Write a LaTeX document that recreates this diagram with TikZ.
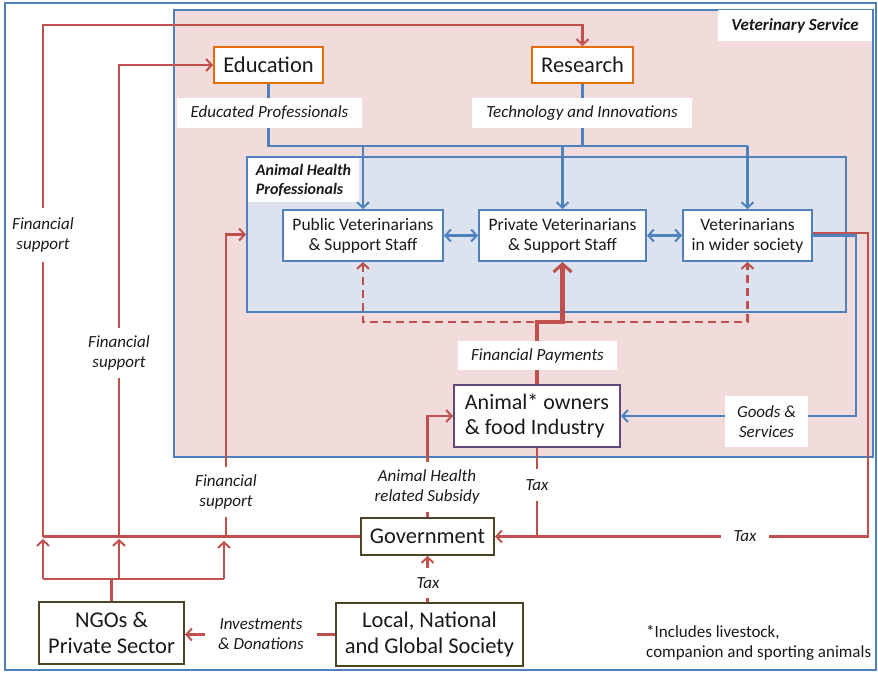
\documentclass[tikz,border=0pt]{standalone}
\usepackage{fontspec}
\setmainfont{Carlito}
\usetikzlibrary{arrows.meta}
\definecolor{vsfill}{HTML}{F2DCDB}
\definecolor{ahpfill}{HTML}{DCE3EE}
\definecolor{bline}{HTML}{4F81BD}
\definecolor{rline}{HTML}{C0504D}
\definecolor{oborder}{HTML}{E46C0A}
\definecolor{pborder}{HTML}{604A7B}
\definecolor{gborder}{HTML}{4A4529}
\definecolor{txt}{HTML}{1A1A1A}
\begin{document}
\begin{tikzpicture}[x=1pt,y=-1pt,
  rl/.style={draw=rline,line width=2.3pt},
  bl/.style={draw=bline,line width=2.5pt},
  tip/.style={-{Straight Barb[length=5.5pt,width=12pt,line width=2pt]}},
  tips2/.style={{Straight Barb[length=5.5pt,width=12pt,line width=2pt]}-{Straight Barb[length=5.5pt,width=12pt,line width=2pt]}},
  bigtip/.style={-{Straight Barb[length=8pt,width=18pt,line width=3pt]}},
  dsh/.style={dash pattern=on 8pt off 5pt},
  box/.style={draw,fill=white,line width=2pt,inner sep=0pt,align=center,text=txt},
  bigf/.style={font=\fontsize{22.5}{26}\selectfont},
  midf/.style={font=\fontsize{17.5}{20}\selectfont},
  lab/.style={fill=white,inner sep=0pt,align=center,text=txt,font=\fontsize{17}{20}\selectfont\itshape},
]
\useasboundingbox (0,0) rectangle (878,672);
% outer frame
\node[draw=bline,line width=1.3pt,minimum width=871pt,minimum height=667pt,inner sep=0pt] (frame) at (440.5,336.5) {};
% veterinary service
\node[draw=bline,fill=vsfill,line width=2pt,minimum width=699pt,minimum height=447pt,inner sep=0pt] (vs) at (523.5,233.5) {};
\node[fill=white,inner sep=0pt,minimum width=154pt,minimum height=31pt,text=txt,font=\fontsize{17}{20}\selectfont\bfseries\itshape] (vslab) at (795,25.5) {Veterinary Service};
% animal health professionals
\node[draw=bline,fill=ahpfill,line width=2pt,minimum width=599pt,minimum height=155pt,inner sep=0pt] (ahp) at (546.5,234.5) {};
\node[fill=white,inner sep=0pt,minimum width=111pt,minimum height=44pt,align=left,text=txt,font=\fontsize{16}{19}\selectfont\bfseries\itshape] (ahplab) at (303.5,180) {Animal Health\\Professionals};

% boxes
\node[box,draw=oborder,bigf,minimum width=109pt,minimum height=36pt] (edu) at (268.5,65) {Education};
\node[box,draw=oborder,bigf,minimum width=101pt,minimum height=36pt] (res) at (582.5,65) {Research};
\node[box,draw=bline,midf,minimum width=160pt,minimum height=51pt] (pub) at (363,235.5) {Public Veterinarians\\\& Support Staff};
\node[box,draw=bline,midf,minimum width=167pt,minimum height=51pt] (priv) at (562.5,235.5) {Private Veterinarians\\\& Support Staff};
\node[box,draw=bline,midf,minimum width=129pt,minimum height=51pt] (wider) at (747.5,235.5) {Veterinarians\\in wider society};
\node[box,draw=pborder,font=\fontsize{22}{25}\selectfont,align=left,minimum width=166pt,minimum height=62pt] (animal) at (537,416) {Animal* owners\\\& food Industry};
\node[box,draw=gborder,bigf,minimum width=133pt,minimum height=37pt] (gov) at (427.5,536.5) {Government};
\node[box,draw=gborder,bigf,minimum width=145pt,minimum height=62pt] (ngo) at (111.5,633) {NGOs \&\\Private Sector};
\node[box,draw=gborder,bigf,minimum width=187pt,minimum height=63pt] (soc) at (429.5,634.5) {Local, National\\and Global Society};

% blue flows from education and research
\coordinate (bus) at (0,146);
\draw[bl] (edu.south) -- (edu.south |- bus) -- (wider.north |- bus);
\draw[bl] (res.south) -- (res.south |- bus);
\draw[bl,tip] (pub.north |- bus) -- (pub.north);
\draw[bl,tip] (priv.north |- bus) -- (priv.north);
\draw[bl,tip] (wider.north |- bus) -- (wider.north);
\node[lab,minimum width=185pt,minimum height=30pt] (edulab) at (269.5,113) {Educated Professionals};
\node[lab,minimum width=220pt,minimum height=30pt] (reslab) at (582,113) {Technology and Innovations};

% between vets
\draw[bl,tips2] (pub.east) -- (priv.west);
\draw[bl,tips2] (priv.east) -- (wider.west);

% dashed red flows
\coordinate (dl) at (0,322);
\draw[rl,dsh,{Straight Barb[length=5.5pt,width=12pt,line width=2pt]}-{Straight Barb[length=5.5pt,width=12pt,line width=2pt]}] (pub.south) -- (pub.south |- dl) -- (wider.south |- dl) -- (wider.south);
\draw[rl,line width=4.5pt,bigtip] (animal.north) -- (animal.north |- dl) -- (priv.south |- dl) -- (priv.south);
\node[lab,minimum width=159pt,minimum height=29pt] (paylab) at (537.5,355.5) {Financial Payments};

% goods and services, tax from wider society
\coordinate (bx) at (856,0);
\coordinate (rx) at (868,0);
\draw[bl,tip] (wider.east) -- (bx |- wider.east) |- (animal.east);
\draw[rl,tip] ([yshift=2.5pt]wider.east) -- ([yshift=2.5pt]rx |- wider.east) |- (gov.east);
\node[lab,minimum width=83pt,minimum height=51pt] (goodslab) at (766.5,421.5) {Goods \&\\Services};
\node[lab,minimum width=48pt,minimum height=28pt] (tax1) at (745,536.5) {Tax};

% tax from animal owners
\draw[rl] (animal.south) -- (animal.south |- gov.east);
\node[lab,minimum width=32pt,minimum height=32pt] (tax2) at (537,485) {Tax};

% subsidy
\draw[rl,tip] (gov.north) |- (animal.west);
\node[lab,minimum width=112pt,minimum height=50pt] (sublab) at (427,487) {Animal Health\\related Subsidy};

% government financial support
\coordinate (f1) at (43,0);
\coordinate (f2) at (119,0);
\coordinate (f3) at (226,0);
\coordinate (top) at (0,25);
\draw[rl] (gov.west) -- (f1 |- gov.west);
\draw[rl,tip] (f1 |- gov.west) -- (f1 |- top) -| (res.north);
\draw[rl,tip] (f2 |- gov.west) |- (edu.west);
\draw[rl,tip] (f3 |- gov.west) |- (ahp.west);
\node[lab,minimum width=72pt,minimum height=54pt] (fs1) at (43,235) {Financial\\support};
\node[lab,minimum width=72pt,minimum height=50pt] (fs2) at (119,353) {Financial\\support};
\node[lab,minimum width=72pt,minimum height=50pt] (fs3) at (226,492) {Financial\\support};

% NGO support
\coordinate (nb) at (0,579);
\draw[rl] (ngo.north) -- (ngo.north |- nb);
\draw[rl] (f1 |- nb) -- (224,579);
\draw[rl,tip] (f1 |- nb) -- (43,539);
\draw[rl,tip] (f2 |- nb) -- (119,539);
\draw[rl,tip] (224,579) -- (224,541);

% society flows
\draw[rl,tip] (soc.north -| gov.south) -- (gov.south);
\node[lab,minimum width=34pt,minimum height=30pt] (tax3) at (428,583) {Tax};
\draw[rl,tip] (soc.west) -- (soc.west -| ngo.east);
\node[lab,minimum width=112pt,minimum height=52pt] (invlab) at (261,634) {Investments\\\& Donations};

% footnote
\node[anchor=north west,inner sep=0pt,align=left,text=txt,font=\fontsize{17}{20}\selectfont] (note) at (646,625) {*Includes livestock,\\companion and sporting animals};
\end{tikzpicture}
\end{document}
